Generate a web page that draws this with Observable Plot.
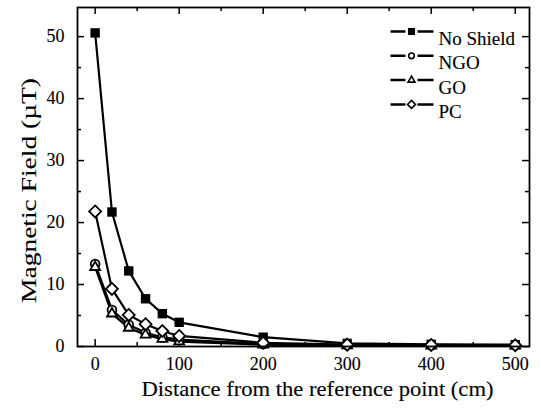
<!DOCTYPE html>
<html><head><meta charset="utf-8">
<script src="https://cdn.jsdelivr.net/npm/d3@7"></script>
<script src="https://cdn.jsdelivr.net/npm/@observablehq/plot@0.6"></script>
<style>html,body{margin:0;padding:0;background:#fff} svg{display:block} svg text{font-family:'Liberation Serif','Times New Roman',serif !important; stroke:black; stroke-width:0.12px}</style>
</head><body><div id="chart"></div>
<script>
// ---- data ----
const distances = [0, 20, 40, 60, 80, 100, 200, 300, 400, 500];
const noShield  = [50.6, 21.7, 12.2, 7.7, 5.3, 3.9, 1.5, 0.5, 0.35, 0.3];
const ngo       = [13.3, 5.9, 3.5, 2.2, 1.5, 1.1, 0.4, 0.25, 0.2, 0.2];
const go        = [12.8, 5.3, 3.0, 1.9, 1.2, 0.8, 0.3, 0.15, 0.1, 0.1];
const pc        = [21.8, 9.3, 5.1, 3.6, 2.5, 1.7, 0.6, 0.3, 0.25, 0.2];
const seriesNames = ["No Shield", "NGO", "GO", "PC"];
const xTicks = [0, 100, 200, 300, 400, 500];
const xMinorTicks = [50, 150, 250, 350, 450];
const yTicks = [0, 10, 20, 30, 40, 50];
const yMinorTicks = [5, 15, 25, 35, 45];
const xLabel = "Distance from the reference point (cm)";
const yLabel = "Magnetic Field (\u00B5T)";

// ---- build table ----
const seriesValues = [noShield, ngo, go, pc];
const rows = [];
seriesNames.forEach((name, i) => {
  distances.forEach((d, j) => rows.push({series: name, distance: d, field: seriesValues[i][j]}));
});

const W = 541, H = 416;
const mTop = 7, mBottom = 70, mLeft = 77, mRight = 12;
const innerW = W - mLeft - mRight, innerH = H - mTop - mBottom;
const font = "'Liberation Serif', 'Times New Roman', serif";

const symbols = {
  "No Shield": {symbol: "square", fill: "black", stroke: "none", r: 5.3, lr: 4.0},
  "NGO": {symbol: "circle", fill: "white", stroke: "black", r: 4.4, lr: 2.8},
  "GO": {symbol: "triangle2", fill: "white", stroke: "black", r: 4.7, lr: 3.3},
  "PC": {symbol: "diamond2", fill: "white", stroke: "black", r: 5.4, lr: 3.6}
};

const legendLine = {
  draw(ctx) {
    ctx.moveTo(-21, 0); ctx.lineTo(-6, 0);
    ctx.moveTo(6, 0); ctx.lineTo(22, 0);
  }
};

const marks = [];
// tick marks (inward, mirrored)
const majLen = 7, minLen = 4;
const tk = {stroke: "black", strokeWidth: 1.5};
marks.push(Plot.tickX(xTicks, {x: d => d, insetTop: innerH - majLen, ...tk}));
marks.push(Plot.tickX(xMinorTicks, {x: d => d, insetTop: innerH - minLen, ...tk}));
marks.push(Plot.tickX(xTicks, {x: d => d, insetBottom: innerH - majLen, ...tk}));
marks.push(Plot.tickX(xMinorTicks, {x: d => d, insetBottom: innerH - minLen, ...tk}));
marks.push(Plot.tickY(yTicks, {y: d => d, insetRight: innerW - majLen, ...tk}));
marks.push(Plot.tickY(yMinorTicks, {y: d => d, insetRight: innerW - minLen, ...tk}));
marks.push(Plot.tickY(yTicks, {y: d => d, insetLeft: innerW - majLen, ...tk}));
marks.push(Plot.tickY(yMinorTicks, {y: d => d, insetLeft: innerW - minLen, ...tk}));

// axes labels (tick labels)
marks.push(Plot.axisX({ticks: xTicks, tickSize: 0, tickPadding: 11, tickFormat: d => String(d), fontSize: 18, fontFamily: font, label: null}));
marks.push(Plot.axisY({ticks: yTicks, tickSize: 0, tickPadding: 13, tickFormat: d => String(d), fontSize: 18, fontFamily: font, label: null}));

// data lines and markers
marks.push(Plot.line(rows, {x: "distance", y: "field", z: "series", stroke: "black", strokeWidth: 2.2}));
seriesNames.forEach(name => {
  const s = symbols[name];
  marks.push(Plot.dot(rows.filter(r => r.series === name), {
    x: "distance", y: "field", symbol: s.symbol, r: s.r, fill: s.fill, stroke: s.stroke, strokeWidth: 1.8
  }));
});

// legend
seriesNames.forEach((name, i) => {
  const s = symbols[name];
  const dy = 24 + i * 24.3;
  marks.push(Plot.dot([name], {frameAnchor: "top-right", dx: -118, dy, symbol: legendLine, r: 5, fill: "none", stroke: "black", strokeWidth: 2.5}));
  marks.push(Plot.dot([name], {frameAnchor: "top-right", dx: -118, dy, symbol: s.symbol, r: s.lr, fill: s.fill, stroke: s.stroke, strokeWidth: 1.6}));
  marks.push(Plot.text([name], {frameAnchor: "top-right", dx: -91, dy, text: d => d, textAnchor: "start", fontSize: 19, fontFamily: font, fill: "black"}));
});

// axis titles
marks.push(Plot.text([xLabel], {frameAnchor: "bottom", dx: 14, dy: 49, text: d => d, fontSize: 22, fontFamily: font, fill: "black", className: "xlab"}));
marks.push(Plot.text([yLabel], {frameAnchor: "left", dx: -48.5, dy: 126, rotate: -90, textAnchor: "start", text: d => d, fontSize: 22, fontFamily: font, fill: "black", className: "ylab"}));

marks.push(Plot.frame({stroke: "black", strokeWidth: 1.8}));

const chart = Plot.plot({
  width: W, height: H,
  marginTop: mTop, marginBottom: mBottom, marginLeft: mLeft, marginRight: mRight,
  style: {fontFamily: font, fontSize: "17px", color: "black", background: "white", overflow: "visible"},
  x: {domain: [-21, 517], axis: null},
  y: {domain: [0, 54.7], axis: null},
  marks
});
document.getElementById("chart").appendChild(chart);

// stretch axis titles to match the original extents
d3.select(chart).selectAll(".xlab text").attr("textLength", 352).attr("lengthAdjust", "spacingAndGlyphs");
d3.select(chart).selectAll(".ylab text").attr("textLength", 225).attr("lengthAdjust", "spacingAndGlyphs");
</script>
</body></html>
